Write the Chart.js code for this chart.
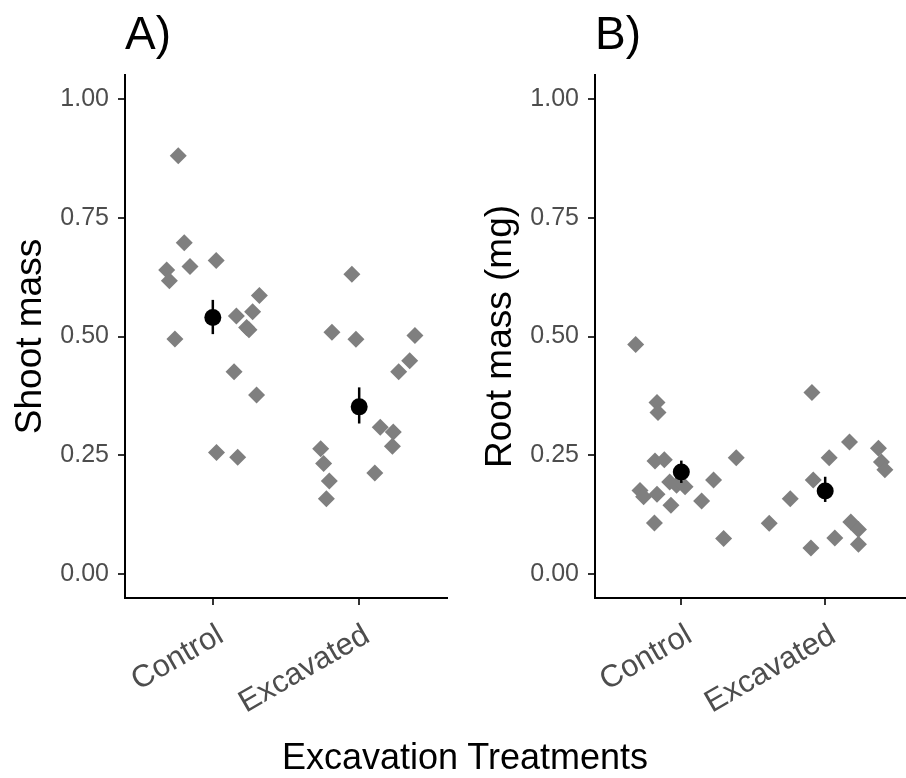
<!DOCTYPE html>
<html>
<head>
<meta charset="utf-8">
<script src="https://cdn.jsdelivr.net/npm/chart.js@4.4.0/dist/chart.umd.min.js"></script>
<style>
  html, body { margin: 0; padding: 0; background: #fff; overflow: hidden; }
  #wrap { position: relative; width: 906px; height: 778px; overflow: hidden; }
  canvas { position: absolute; top: 0; }
  #xtitle {
    position: absolute; left: 0; width: 930px; top: 736px;
    text-align: center; font: 36px "Liberation Sans", Arial, sans-serif; color: #000;
  }
</style>
</head>
<body>
<div id="wrap">
  <canvas id="panelA" width="465" height="778" style="left:0"></canvas>
  <canvas id="panelB" width="450" height="778" style="left:470px"></canvas>
  <div id="xtitle">Excavation Treatments</div>
</div>
<script>
// Categories and tick labels
const categories = ['Control', 'Excavated'];
const yTicks = [0, 0.25, 0.5, 0.75, 1];

// Panel A - shoot mass, jittered raw points
const shootCtrlX = [0.764, 0.805, 0.685, 0.703, 0.844, 1.023, 1.318, 1.161, 1.272, 1.231, 1.247, 0.741, 1.145, 1.299, 1.025, 1.170];
const shootCtrlY = [0.880, 0.697, 0.640, 0.617, 0.647, 0.660, 0.586, 0.543, 0.552, 0.519, 0.514, 0.495, 0.426, 0.377, 0.256, 0.246];
const shootExcX = [1.950, 1.814, 1.978, 2.381, 2.345, 2.270, 2.144, 2.233, 2.227, 2.107, 1.737, 1.757, 1.796, 1.776];
const shootExcY = [0.631, 0.509, 0.494, 0.502, 0.449, 0.426, 0.309, 0.299, 0.269, 0.213, 0.264, 0.233, 0.196, 0.159];
// means with error bars
const shootMean = [0.540, 0.352];
const shootLo = [0.505, 0.317];
const shootHi = [0.577, 0.393];

// Panel B - root mass
const rootCtrlX = [0.683, 0.831, 0.838, 0.817, 0.882, 1.382, 0.919, 0.967, 1.026, 1.224, 0.713, 0.738, 0.831, 0.928, 1.141, 0.813, 1.294];
const rootCtrlY = [0.483, 0.361, 0.340, 0.238, 0.241, 0.245, 0.194, 0.187, 0.184, 0.198, 0.176, 0.163, 0.168, 0.145, 0.154, 0.108, 0.075];
const rootExcX = [1.908, 2.169, 2.370, 2.391, 2.415, 2.028, 1.917, 1.757, 1.611, 2.178, 2.231, 2.067, 2.231, 1.901];
const rootExcY = [0.382, 0.278, 0.265, 0.236, 0.220, 0.245, 0.198, 0.159, 0.107, 0.110, 0.094, 0.076, 0.063, 0.055];
const rootMean = [0.215, 0.175];
const rootLo = [0.192, 0.152];
const rootHi = [0.239, 0.205];

Chart.defaults.font.family = '"Liberation Sans", Arial, sans-serif';

function toPoints(xs, ys) {
    return xs.map((x, i) => ({ x: x, y: ys[i] }));
}

// Draws the vertical error bars through the chart's scales
const errorBars = {
    id: 'errorBars',
    afterDatasetsDraw(chart, args, opts) {
        const { ctx, scales } = chart;
        ctx.save();
        ctx.strokeStyle = '#000';
        ctx.lineWidth = 2.5;
        opts.lo.forEach((lo, i) => {
            const px = scales.x.getPixelForValue(i + 1);
            ctx.beginPath();
            ctx.moveTo(px, scales.y.getPixelForValue(lo));
            ctx.lineTo(px, scales.y.getPixelForValue(opts.hi[i]));
            ctx.stroke();
        });
        ctx.restore();
    }
};

// Panel letter drawn above the plot area
const panelTitle = {
    id: 'panelTitle',
    afterDraw(chart, args, opts) {
        const ctx = chart.ctx;
        ctx.save();
        ctx.fillStyle = '#000';
        ctx.font = '46px "Liberation Sans", Arial, sans-serif';
        ctx.textAlign = 'left';
        ctx.textBaseline = 'alphabetic';
        ctx.fillText(opts.text, chart.chartArea.left, 49);
        ctx.restore();
    }
};

function buildPanel(id, letter, yLabel, ctrlX, ctrlY, excX, excY, means, lo, hi, padRight) {
    const ctx = document.getElementById(id).getContext('2d');
    return new Chart(ctx, {
        type: 'scatter',
        data: {
            datasets: [
                {
                    label: 'mean',
                    data: means.map((m, i) => ({ x: i + 1, y: m })),
                    backgroundColor: '#000',
                    borderColor: '#000',
                    pointStyle: 'circle',
                    pointRadius: 8.5,
                    borderWidth: 0
                },
                {
                    label: categories[0],
                    data: toPoints(ctrlX, ctrlY),
                    backgroundColor: '#7F7F7F',
                    pointStyle: 'rectRot',
                    pointRadius: 8.5,
                    borderWidth: 0
                },
                {
                    label: categories[1],
                    data: toPoints(excX, excY),
                    backgroundColor: '#7F7F7F',
                    pointStyle: 'rectRot',
                    pointRadius: 8.5,
                    borderWidth: 0
                }
            ]
        },
        options: {
            responsive: false,
            animation: false,
            layout: { padding: { left: 0, right: padRight, top: 75, bottom: 0 } },
            plugins: {
                legend: { display: false },
                tooltip: { enabled: false },
                errorBars: { lo: lo, hi: hi },
                panelTitle: { text: letter }
            },
            scales: {
                x: {
                    type: 'linear',
                    min: 0.4,
                    max: 2.6,
                    afterBuildTicks: (scale) => { scale.ticks = [{ value: 1 }, { value: 2 }]; },
                    afterFit: (scale) => { scale.height = 180; },
                    grid: { drawOnChartArea: false, color: '#333', lineWidth: 2, tickLength: 7 },
                    border: { color: '#000', width: 2 },
                    ticks: {
                        autoSkip: false,
                        minRotation: 30,
                        maxRotation: 30,
                        color: '#4D4D4D',
                        font: { size: 31 },
                        padding: 12,
                        labelOffset: 8,
                        callback: (v) => categories[v - 1]
                    }
                },
                y: {
                    min: -0.05,
                    max: 1.05,
                    afterBuildTicks: (scale) => { scale.ticks = yTicks.map(v => ({ value: v })); },
                    afterFit: (scale) => { scale.width = 125; },
                    grid: { drawOnChartArea: false, color: '#333', lineWidth: 2, tickLength: 7 },
                    border: { color: '#000', width: 2 },
                    ticks: {
                        color: '#4D4D4D',
                        font: { size: 25 },
                        padding: 9,
                        callback: (v) => v.toFixed(2)
                    },
                    title: {
                        display: true,
                        text: yLabel,
                        color: '#000',
                        font: { size: 37 },
                        padding: { top: 9, bottom: 0 }
                    }
                }
            }
        },
        plugins: [errorBars, panelTitle]
    });
}

buildPanel('panelA', 'A)', 'Shoot mass', shootCtrlX, shootCtrlY, shootExcX, shootExcY,
    shootMean, shootLo, shootHi, 18);
buildPanel('panelB', 'B)', 'Root mass (mg)', rootCtrlX, rootCtrlY, rootExcX, rootExcY,
    rootMean, rootLo, rootHi, 8);
</script>
</body>
</html>
